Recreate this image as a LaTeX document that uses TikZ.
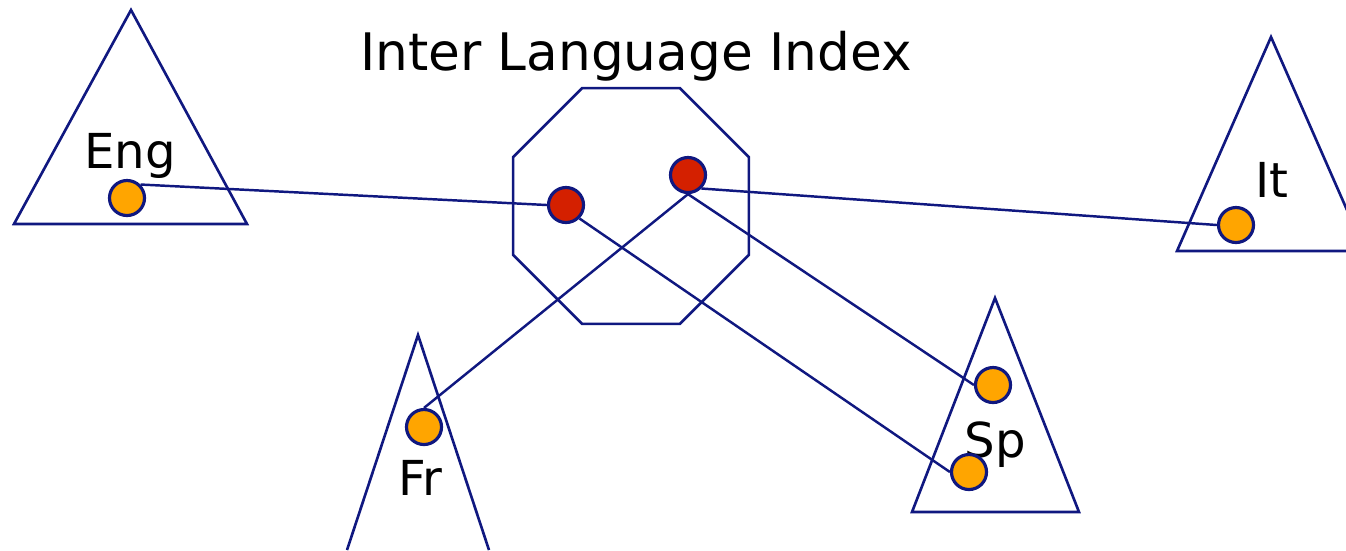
\documentclass[tikz,border=0pt]{standalone}
\usepackage{fontspec}
\setmainfont{DejaVu Sans}
\usetikzlibrary{shapes.geometric}
\definecolor{navyline}{RGB}{16,24,128}
\definecolor{dotorange}{RGB}{255,165,0}
\definecolor{dotred}{RGB}{212,32,0}
\tikzset{
  tree/.style={draw=navyline, line width=0.75pt},
  term/.style={circle, draw=navyline, line width=0.9pt, fill=dotorange, minimum size=0.35cm, inner sep=0pt},
  hub/.style={circle, draw=navyline, line width=0.9pt, fill=dotred, minimum size=0.35cm, inner sep=0pt},
  link/.style={draw=navyline, line width=0.7pt},
  lang/.style={font=\fontsize{13.7}{14}\selectfont, anchor=base}
}

\begin{document}
\begin{tikzpicture}[x=0.01cm, y=-0.01cm]
    \useasboundingbox (0,0) rectangle (1346,550);
    % language trees
    \draw[tree] (131,10) -- (247,224) -- (14,224) -- cycle;
    \draw[tree] (1177,251) -- (1271,37) -- (1365,251) -- cycle;
    \draw[tree] (347,550) -- (418,335) -- (489,550);
    \draw[tree] (912,512) -- (995,298) -- (1079,512) -- cycle;
    \node[regular polygon, regular polygon sides=8, draw=navyline, line width=0.75pt,
          minimum size=2.55cm, inner sep=0pt] (index) at (631,206) {};

    \node[font=\fontsize{14.7}{15}\selectfont, anchor=base] (title) at (636,70) {Inter Language Index};
    \node[lang] (englabel) at (130,168) {Eng};
    \node[lang] (itlabel) at (1272,197) {It};
    \node[lang] (frlabel) at (420,495) {Fr};
    \node[lang] (splabel) at (995,457) {Sp};

    \node[term] (engdot) at (127,198) {};
    \node[hub] (hubA) at (566,205) {};
    \node[hub] (hubB) at (688,175) {};
    \node[term] (itdot) at (1236,225) {};
    \node[term] (frdot) at (424,427) {};
    \node[term] (spdotA) at (993,385) {};
    \node[term] (spdotB) at (969,472) {};

    \draw[link] (engdot.north east) -- (hubA.west);
    \draw[link] (hubA.south east) -- (spdotB.west);
    \draw[link] (hubB.south east) -- (itdot.west);
    \draw[link] (hubB.south) -- (frdot.north);
    \draw[link] (hubB.south) -- (spdotA.west);
\end{tikzpicture}
\end{document}
